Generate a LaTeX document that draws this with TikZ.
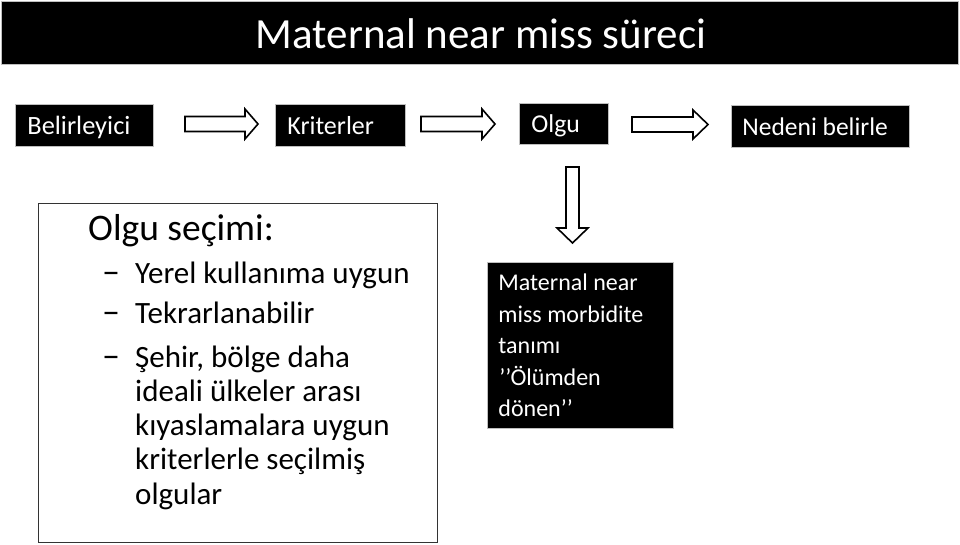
\documentclass[tikz,border=0pt]{standalone}
\usepackage{fontspec}
\setmainfont{Carlito}
\begin{document}
\begin{tikzpicture}[x=1pt,y=-1pt,
  blackbox/.style={fill=black,draw=gray!50,line width=0.8pt,text=white,anchor=north west,
    inner xsep=12pt,inner ysep=0pt,align=flush left,font=\fontsize{26}{30}\selectfont},
  topbox/.style={blackbox,text height=24pt,text depth=6pt},
  barrow/.style={draw=black,fill=white,line width=1.6pt,line join=miter},
  itemtxt/.style={anchor=base west,inner sep=0pt,align=flush left,font=\fontsize{31}{34.2}\selectfont},
  dashtxt/.style={anchor=base west,inner sep=0pt,font=\fontsize{36}{40}\selectfont}]
\useasboundingbox (0,0) rectangle (960,544);
% title
\node[fill=black,draw=gray!50,line width=0.8pt,anchor=north west,minimum width=957pt,minimum height=63pt,inner sep=0pt] (title) at (1,1) {};
\node[text=white,font=\fontsize{43}{46}\selectfont,inner sep=0pt] (titletxt) at (481,34) {Maternal near miss süreci};
% top row boxes
\node[topbox,minimum width=138pt,minimum height=42pt,text width=114pt,font=\fontsize{26.4}{30}\selectfont] (b1) at (15,104) {Belirleyici};
\node[topbox,minimum width=130pt,minimum height=42pt,text width=106pt] (b2) at (275,104) {Kriterler};
\node[topbox,minimum width=89pt,minimum height=41pt,text width=65pt,font=\fontsize{25.7}{30}\selectfont] (b3) at (519,103) {Olgu};
\node[topbox,minimum width=178pt,minimum height=42pt,text width=156pt,inner xsep=11pt,font=\fontsize{25.5}{30}\selectfont] (b4) at (731,105) {Nedeni belirle};
% block arrows
\draw[barrow] (185,116.5) -- (245,116.5) -- (245,109) -- (258,124) -- (245,139) -- (245,131.5) -- (185,131.5) -- cycle;
\draw[barrow] (421,116.5) -- (482,116.5) -- (482,109) -- (495,124) -- (482,139) -- (482,131.5) -- (421,131.5) -- cycle;
\draw[barrow] (632,117) -- (693,117) -- (693,110) -- (708,124.5) -- (693,139) -- (693,132) -- (632,132) -- cycle;
\draw[barrow] (566,167) -- (579,167) -- (579,228) -- (588,228) -- (572.5,243) -- (557,228) -- (566,228) -- cycle;
% definition box
\node[blackbox,minimum width=186pt,minimum height=166pt,text width=164pt,inner xsep=11pt,
  font=\fontsize{24}{31.4}\selectfont] (def) at (487,262)
  {Maternal near\\miss morbidite\\tanımı\\\hspace*{1pt}’’Ölümden\\dönen’’};
% left box
\node[draw=black!80,line width=0.8pt,anchor=north west,minimum width=399pt,minimum height=339pt,inner sep=0pt] (sel) at (38,203) {};
\node[anchor=base west,inner sep=0pt,font=\fontsize{37.5}{40}\selectfont] (seltitle) at (88,240) {Olgu seçimi:};
\node[dashtxt] (d1) at (102,283) {–};
\node[itemtxt] (i1) at (135,283) {Yerel kullanıma uygun};
\node[dashtxt] (d2) at (102,323) {–};
\node[itemtxt] (i2) at (135,323) {Tekrarlanabilir};
\node[dashtxt] (d3) at (102,367) {–};
\node[itemtxt] (i3) at (135,504) {Şehir, bölge daha\\ideali ülkeler arası\\kıyaslamalara uygun\\kriterlerle seçilmiş\\olgular};
\end{tikzpicture}
\end{document}
